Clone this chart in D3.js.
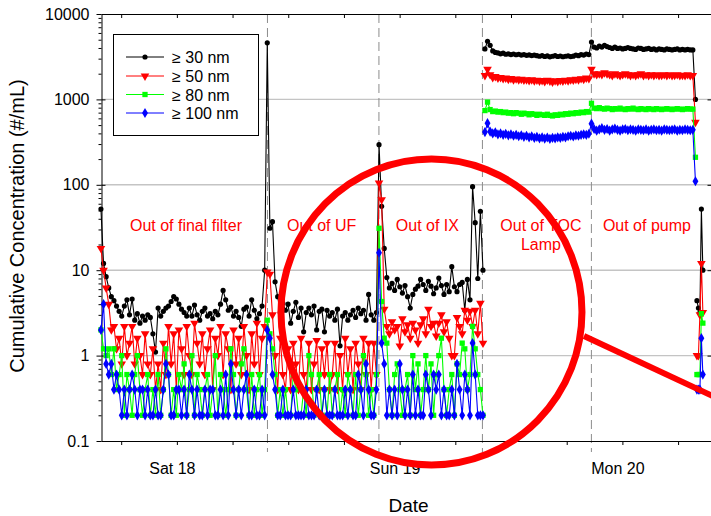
<!DOCTYPE html>
<html><head><meta charset="utf-8">
<script src="https://cdn.jsdelivr.net/npm/d3@7"></script>
<style>
body{margin:0;background:#fff}
svg{display:block;font-family:"Liberation Sans",Arial,sans-serif}
</style>
</head><body>
<svg id="c" width="711" height="516"></svg>
<script>
// ---------------- DATA ----------------
const seriesNames = ["\u2265 30 nm", "\u2265 50 nm", "\u2265 80 nm", "\u2265 100 nm"];
const yTickValues = [0.1, 1, 10, 100, 1000, 10000];
const yTickLabels = ["0.1", "1", "10", "100", "1000", "10000"];
const gridValues = [1, 10, 100, 1000];
const xTickHours = [6, 12, 18, 24, 30, 36, 42, 48, 54, 60, 66];
const dayLabelHours = [12, 36, 60];
const dayLabels = ["Sat 18", "Sun 19", "Mon 20"];
const phaseBoundaryHours = [21.76, 33.77, 44.92, 56.66];
const phaseLabels = ["Out of final filter", "Out of UF", "Out of IX", "Out of TOC\nLamp", "Out of pump"];
const phaseLabelHours = [12.98, 27.6, 38.99, 51.22, 62.64];
const phaseLabelValue = 29;

// sampling
const sampleStepHours = 0.28;
const run1StartHour = 3.82;   // final filter -> UF -> IX (continuous)
const run2StartHour = 45.19;  // TOC lamp -> pump (continuous)
const run3StartHour = 68.03;  // last short burst
const run3StepHours = 0.16;

// Run 1 : out of final filter
const ffBlack = [52,12,8.4,6.2,4.9,4.4,3.8,3.3,2.9,3.8, 4.5,3.0,4.6,2.6,3.1,2.4,2.9,2.6,3.0,2.8, 1.8,1.1,3.6,2.9,3.3,3.6,3.8,4.3,4.9,4.6, 4.0,3.5,3.2,2.9,3.6,2.9,3.9,3.0,2.6,3.3, 3.6,2.9,3.1,2.7,3.3,3.0,4.0,5.8,4.5,3.4, 3.7,2.9,3.3,2.8,2.2,3.5,3.7,2.9,4.5,3.4, 2.7,3.1,3.8,10];
const ffRed = [18,10,6.2,4.0,2.0,2.2,1.2,1.6,0.8,2.2, 1.0,1.4,2.2,0.8,1.6,1.0,0.6,1.8,0.8,0.6, 1.2,0.4,0.8,0.4,1.4,0.6,2.2,0.8,1.8,0.4, 2.0,1.2,0.6,2.2,1.0,0.6,2.4,1.4,0.8,1.8, 0.6,1.2,2.0,0.4,1.6,1.0,2.2,0.6,1.8,1.2, 0.4,2.0,0.8,1.6,0.6,2.2,1.0,0.4,1.8,0.8, 2.4,0.6,1.6,2.2];
const ffGreen = [2.0,1.2,1.0,1.2,0.6,1.2,0.4,0.6,1.0,0.2, 0.6,0.4,0.2,0.6,1.0,0.4,0.2,0.4,0.6,0.2, 0.4,0.2,0.6,0.2,0.4,1.2,0.6,0.2,0.4,0.2, 0.6,0.4,0.8,0.2,0.4,1.0,0.2,0.6,0.4,0.2, 0.4,0.6,0.2,0.4,1.0,0.2,0.6,0.4,0.2,0.4, 1.2,0.6,0.2,0.4,0.8,1.2,0.4,0.2,0.6,0.2, 0.4,0.6,0.2,0.4];
const ffBlue = [2.0,4.0,0.8,0.6,0.8,0.4,0.6,0.4,0.2,0.4, 0.2,0.4,0.6,0.4,0.2,0.4,0.4,0.2,0.4,0.2, 0.2,0.4,0.2,0.2,0.4,0.8,0.6,0.2,0.2,0.4, 0.4,0.2,0.4,0.2,0.6,0.4,0.2,0.4,0.2,0.2, 0.4,0.2,0.4,0.4,0.2,0.2,0.4,0.2,0.6,0.2, 0.8,0.4,0.2,0.4,0.2,0.4,0.6,0.2,0.2,0.4, 0.2,0.2,0.4,0.2];
// out of UF
const ufBlack = [4600,31,37,7.3,4.9,3.2,4.1,3.4,4.0,2.4, 3.3,4.2,2.8,3.6,1.9,3.2,3.6,3.0,3.8,2.0, 3.3,3.5,1.9,3.4,2.9,3.2,2.6,3.5,1.3,2.9, 3.2,2.6,3.0,3.4,2.8,3.6,3.1,3.4,2.6,5.2, 3.0,2.6,3.2];
const ufRed = [9.5,9.0,3.0,1.0,0.4,1.6,0.6,0.4,1.2,0.4, 1.4,0.8,0.4,1.6,0.6,0.4,1.4,0.4,0.8,1.5, 0.4,1.2,0.6,1.4,0.4,0.6,1.4,0.4,1.0,0.4, 1.6,0.6,1.2,0.4,1.4,0.8,0.4,1.6,0.6,1.4, 0.4,1.4,0.6];
const ufGreen = [2.6,1.8,1.2,0.6,0.2,0.4,0.2,0.4,0.2,0.2, 0.6,0.4,0.2,0.2,0.4,0.2,1.0,0.6,0.2,0.4, 0.6,0.2,0.4,0.2,0.6,0.2,0.4,0.6,0.2,0.4, 0.2,0.6,0.4,0.2,0.6,0.2,0.4,1.0,0.6,0.2, 0.4,0.2,0.6];
const ufBlue = [2.0,1.6,0.6,0.4,0.2,0.2,0.4,0.2,0.2,0.2, 0.4,0.2,0.2,0.2,0.2,0.4,0.2,0.2,0.2,0.4, 0.2,0.2,0.4,0.2,0.2,0.2,0.4,0.2,0.2,0.2, 0.4,0.2,0.4,0.2,0.2,0.6,0.4,0.2,0.8,0.4, 0.2,0.2,0.4];
// out of IX
const ixBlack = [295,56,18,8.2,6.2,7.0,5.8,7.8,6.4,5.4, 6.6,4.9,3.6,5.2,6.0,6.5,7.8,6.8,5.8,7.4, 6.5,5.3,6.2,8.1,6.6,5.2,6.8,5.6,11,6.4, 5.6,6.8,7.2,3.4,7.8,4.5,95,36,8.0,49, 10];
const ixRed = [105,67,3.5,2.2,1.8,2.5,2.0,2.2,1.3,2.7, 1.9,2.3,1.6,2.4,2.0,1.4,2.3,2.7,1.8,3.5, 2.2,2.4,1.7,2.4,3.0,1.9,2.5,1.6,1.0,1.0, 2.8,2.2,1.8,3.4,2.6,3.3,2.2,3.4,1.8,4.1, 1.4];
const ixGreen = [31,4.3,1.6,1.4,0.4,0.2,0.6,0.8,0.4,0.2, 0.4,0.6,0.2,1.0,0.4,0.8,0.2,0.4,1.0,0.4, 0.8,0.2,0.6,1.0,1.6,0.4,0.2,0.4,0.6,0.2, 0.8,0.6,1.4,1.2,0.4,0.6,2.2,1.2,0.6,0.4, 0.2];
const ixBlue = [16,1.4,0.8,0.2,0.4,0.2,0.4,0.2,0.8,0.4, 0.2,0.4,0.2,0.6,0.2,0.4,0.2,0.2,0.6,0.4, 0.2,0.6,0.4,0.6,0.2,0.4,0.2,0.2,0.4,0.2, 0.8,0.4,0.2,0.6,0.4,0.2,1.4,0.6,0.2,0.2, 0.2];

// Run 2 : out of TOC lamp
const tocBlack = [3900,4800,4300,3700,3550,3500,3420,3480,3380,3420, 3350,3400,3330,3380,3300,3350,3280,3320,3260,3300, 3250,3200,3260,3180,3230,3150,3200,3250,3180,3220, 3160,3200,3240,3170,3210,3300,3250,3350,3300,3400, 3350];
const tocRed = [1900,2250,1950,1800,1850,1780,1800,1750,1780,1720, 1760,1700,1740,1700,1720,1680,1700,1660,1700,1650, 1680,1640,1660,1620,1680,1640,1600,1650,1620,1660, 1640,1680,1650,1700,1680,1720,1700,1750,1720,1780, 1750];
const tocGreen = [740,930,760,720,730,710,720,700,710,690, 700,680,700,690,670,690,680,660,680,670, 650,670,660,650,670,650,640,660,650,670, 660,680,670,690,680,700,690,710,700,720, 710];
const tocBlue = [414,527,420,400,410,390,400,385,395,380, 390,375,385,370,380,365,375,360,370,355, 365,350,360,348,358,345,355,350,360,355, 365,360,370,375,368,380,375,385,390,385, 396];
// out of pump
const pumpBlack = [4700,4100,4000,4200,4100,4300,4150,4050,3950,4100, 3950,4000,3900,3950,4050,3950,3900,3850,4000,3950, 3850,3900,3950,3850,3900,3800,3900,3850,3800,3900, 3850,3800,3850,3900,3800,3850,3800,3850,3800,3800, 1000];
const pumpRed = [2250,2000,1950,2000,1950,2050,2000,1950,1900,2000, 1950,1900,1950,2000,1950,1900,1950,1900,1950,2000, 1900,1950,1900,1950,1900,1950,1900,1920,1950,1900, 1950,1900,1920,1950,1900,1920,1900,1950,1900,1900, 540];
const pumpGreen = [900,790,780,800,780,770,790,780,760,780, 770,790,770,760,780,770,790,770,760,780, 770,760,780,770,760,780,770,760,770,780, 770,760,770,780,770,760,770,780,770,770, 210];
const pumpBlue = [520,450,430,445,460,440,450,430,445,455, 440,430,445,450,435,445,440,430,445,440, 435,445,430,440,445,435,440,430,445,440, 435,440,445,430,440,435,445,440,435,440, 110];

// Run 3 : final burst
const endBlack = [4.4, 3.6, 3.2, 52, 10];
const endRed = [1.0, 1.0, 3.0, 12, 3.2];
const endGreen = [0.6, 0.6, 0.6, 3.1, 2.4];
const endBlue = [0.4, 0.4, 0.4, 1.6, 0.6];

// highlight annotation (data coordinates)
const circleCenterHour = 39.43, circleCenterValue = 3.24;
const pointerStart = [55.86, 1.70], pointerEnd = [74.81, 0.186];

// ---------------- STYLE ----------------
const colors = ["#000000", "#ff0000", "#00ff00", "#0000ff"];
const symbols = [d3.symbolCircle, d3.symbolTriangle, d3.symbolSquare, d3.symbolDiamond];
const symbolSizes = [21, 32, 28, 30];
const symbolRotate = [0, 180, 0, 0];

// ---------------- BUILD ----------------
const runs = [
  {start: run1StartHour, step: sampleStepHours, vals: [
    ffBlack.concat(ufBlack, ixBlack), ffRed.concat(ufRed, ixRed),
    ffGreen.concat(ufGreen, ixGreen), ffBlue.concat(ufBlue, ixBlue)]},
  {start: run2StartHour, step: sampleStepHours, vals: [
    tocBlack.concat(pumpBlack), tocRed.concat(pumpRed),
    tocGreen.concat(pumpGreen), tocBlue.concat(pumpBlue)]},
  {start: run3StartHour, step: run3StepHours, vals: [endBlack, endRed, endGreen, endBlue]}
];

const M = {left: 101.5, top: 14, right: 711.5, bottom: 441};
const x = d3.scaleLinear().domain([3.88, 69.6]).range([M.left, M.right]);
const y = d3.scaleLog().domain([0.1, 10000]).range([M.bottom, M.top]);

const svg = d3.select("#c");

// grid
svg.append("g").selectAll("line").data(gridValues).join("line")
  .attr("x1", M.left).attr("x2", M.right)
  .attr("y1", d => y(d)).attr("y2", d => y(d))
  .attr("stroke", "#c4c4c4").attr("stroke-width", 1.4);

// phase boundaries
svg.append("g").selectAll("line").data(phaseBoundaryHours).join("line")
  .attr("x1", d => x(d)).attr("x2", d => x(d))
  .attr("y1", M.top).attr("y2", M.bottom + 11)
  .attr("stroke", "#8c8c8c").attr("stroke-width", 1).attr("stroke-dasharray", "9,5");

// axes
function styleAxis(g) {
  g.attr("font-family", null).attr("font-size", null);
  g.selectAll("text").attr("font-size", 16).attr("fill", "#000");
  g.selectAll("line").attr("stroke", "#000");
  g.select(".domain").attr("stroke", "#000");
}
const minorVals = [];
for (let e = -1; e < 4; e++) for (let k = 2; k <= 9; k++) minorVals.push(k * Math.pow(10, e));

svg.append("g").attr("transform", `translate(${M.left},0)`)
  .call(d3.axisLeft(y).tickValues(yTickValues).tickFormat((d, i) => yTickLabels[i]).tickSize(5).tickSizeOuter(0).tickPadding(7))
  .call(styleAxis);
svg.append("g").attr("transform", `translate(${M.left},0)`)
  .call(d3.axisLeft(y).tickValues(yTickValues).tickFormat("").tickSize(-4).tickSizeOuter(0))
  .call(g => g.select(".domain").remove()).call(styleAxis);
svg.append("g").attr("transform", `translate(${M.left},0)`)
  .call(d3.axisLeft(y).tickValues(minorVals).tickFormat("").tickSize(3).tickSizeOuter(0))
  .call(g => g.select(".domain").remove()).call(styleAxis);
svg.append("g").attr("transform", `translate(${M.right},0)`)
  .call(d3.axisRight(y).tickValues(yTickValues).tickFormat("").tickSize(-4).tickSizeOuter(0))
  .call(styleAxis);

svg.append("g").attr("transform", `translate(0,${M.bottom})`)
  .call(d3.axisBottom(x).tickValues(xTickHours).tickFormat("").tickSize(4).tickSizeOuter(0))
  .call(styleAxis);
svg.append("g").attr("transform", `translate(0,${M.bottom})`)
  .call(d3.axisBottom(x).tickValues(dayLabelHours).tickFormat((d, i) => dayLabels[i]).tickSize(0).tickPadding(22))
  .call(g => g.select(".domain").remove())
  .call(styleAxis)
  .call(g => g.selectAll("text").attr("dx", -5));
svg.append("g").attr("transform", `translate(0,${M.top})`)
  .call(d3.axisTop(x).tickValues(xTickHours).tickFormat("").tickSize(-4).tickSizeOuter(0))
  .call(styleAxis);

// data
const lineGen = d3.line().x(d => x(d.h)).y(d => y(d.v));
for (let s = 0; s < 4; s++) {
  const g = svg.append("g");
  const allPts = [];
  runs.forEach(run => {
    const pts = run.vals[s].map((v, i) => ({h: run.start + i * run.step, v}));
    allPts.push(...pts);
    g.append("path").attr("d", lineGen(pts)).attr("fill", "none")
      .attr("stroke", colors[s]).attr("stroke-width", 1.1);
  });
  const sym = d3.symbol().type(symbols[s]).size(symbolSizes[s]);
  g.selectAll("path.m").data(allPts).join("path").attr("class", "m")
    .attr("transform", d => `translate(${x(d.h)},${y(d.v)}) rotate(${symbolRotate[s]})`)
    .attr("d", sym).attr("fill", colors[s]);
}

// phase labels
const lab = svg.append("g").attr("fill", "#ff0000").attr("font-size", 16).attr("text-anchor", "middle");
phaseLabels.forEach((t, i) => {
  const txt = lab.append("text").attr("x", x(phaseLabelHours[i])).attr("y", y(phaseLabelValue));
  t.split("\n").forEach((line, j) => {
    txt.append("tspan").attr("x", x(phaseLabelHours[i])).attr("dy", j === 0 ? 0 : 19).text(line);
  });
});

// highlight circle + pointer
svg.append("ellipse")
  .attr("cx", x(circleCenterHour)).attr("cy", y(circleCenterValue))
  .attr("rx", 150.5).attr("ry", 153)
  .attr("fill", "none").attr("stroke", "#ff0000").attr("stroke-width", 7);
svg.append("line")
  .attr("x1", x(pointerStart[0])).attr("y1", y(pointerStart[1]))
  .attr("x2", x(pointerEnd[0])).attr("y2", y(pointerEnd[1]))
  .attr("stroke", "#ff0000").attr("stroke-width", 6);

// axis titles
svg.append("text").attr("x", 408.5).attr("y", 512).attr("text-anchor", "middle")
  .attr("font-size", 19).text("Date");
svg.append("text").attr("transform", "translate(24,226) rotate(-90)").attr("text-anchor", "middle")
  .attr("font-size", 20).text("Cumulative Concentration (#/mL)");

// legend
const lg = svg.append("g");
lg.append("rect").attr("x", 113.5).attr("y", 34.5).attr("width", 145).attr("height", 101)
  .attr("fill", "#fff").attr("stroke", "#000").attr("stroke-width", 1);
const legendY = [57, 76, 94.5, 113];
seriesNames.forEach((n, i) => {
  lg.append("line").attr("x1", 126).attr("x2", 164).attr("y1", legendY[i]).attr("y2", legendY[i])
    .attr("stroke", colors[i]).attr("stroke-width", 1);
  lg.append("path").attr("d", d3.symbol().type(symbols[i]).size(symbolSizes[i])())
    .attr("transform", `translate(145,${legendY[i]}) rotate(${symbolRotate[i]})`).attr("fill", colors[i]);
  lg.append("text").attr("x", 172).attr("y", legendY[i] + 6).attr("font-size", 16).text(n);
});
</script>
</body></html>
